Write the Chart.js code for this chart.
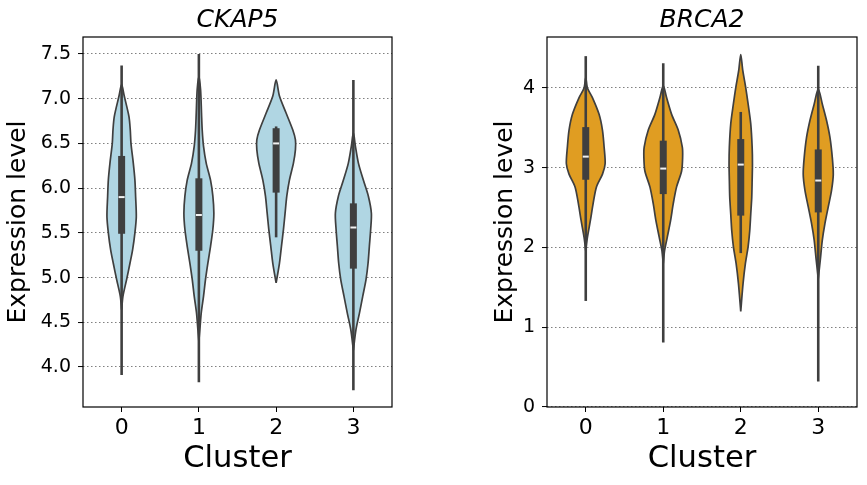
<!DOCTYPE html>
<html>
<head>
<meta charset="utf-8">
<script src="https://cdn.jsdelivr.net/npm/chart.js@4.4.1/dist/chart.umd.min.js"></script>
<style>
  body { margin: 0; background: #fff; }
  #wrap { position: relative; width: 867px; height: 485px; }
  #c1 { position: absolute; left: 0; top: 0; }
  #c2 { position: absolute; left: 440px; top: 0; }
</style>
</head>
<body>
<div id="wrap">
  <canvas id="c1" width="440" height="485"></canvas>
  <canvas id="c2" width="427" height="485"></canvas>
</div>
<script>
const clusters = [0, 1, 2, 3];

// CKAP5 - violin outlines: expression level (bottom to top) and half width in cluster units
const ckap5Levels = [
  [4.64, 4.79, 4.98, 5.16, 5.31, 5.50, 5.68, 5.91, 6.09, 6.28, 6.50, 6.65, 6.80, 7.03, 7.16],
  [4.29, 4.42, 4.60, 4.79, 4.98, 5.16, 5.35, 5.54, 5.72, 5.91, 6.09, 6.28, 6.47, 6.65, 6.84, 7.10, 7.25],
  [4.94, 5.16, 5.35, 5.54, 5.72, 5.91, 6.09, 6.28, 6.43, 6.54, 6.65, 6.84, 7.03, 7.21],
  [4.19, 4.42, 4.60, 4.79, 4.98, 5.16, 5.35, 5.54, 5.72, 5.91, 6.09, 6.28, 6.47, 6.62]
];
const ckap5Widths = [
  [0, 0.017, 0.065, 0.108, 0.142, 0.172, 0.19, 0.181, 0.172, 0.151, 0.121, 0.112, 0.095, 0.034, 0],
  [0, 0.013, 0.03, 0.06, 0.086, 0.116, 0.151, 0.181, 0.194, 0.181, 0.151, 0.095, 0.06, 0.043, 0.034, 0.022, 0],
  [0, 0.043, 0.069, 0.095, 0.116, 0.138, 0.172, 0.224, 0.25, 0.25, 0.216, 0.129, 0.043, 0],
  [0, 0.034, 0.078, 0.121, 0.164, 0.19, 0.207, 0.224, 0.233, 0.194, 0.129, 0.065, 0.026, 0]
];
const ckap5Low = [3.91, 3.83, 5.45, 3.74];
const ckap5Q1 = [5.49, 5.30, 5.95, 5.10];
const ckap5Median = [5.90, 5.70, 6.50, 5.56];
const ckap5Q3 = [6.36, 6.11, 6.67, 5.83];
const ckap5High = [7.37, 7.50, 6.69, 7.21];
const ckap5Ticks = [4.0, 4.5, 5.0, 5.5, 6.0, 6.5, 7.0, 7.5];

// BRCA2
const brca2Levels = [
  [1.96, 2.13, 2.34, 2.55, 2.76, 2.92, 3.05, 3.26, 3.47, 3.67, 3.88, 4.00, 4.13],
  [1.80, 1.96, 2.13, 2.34, 2.55, 2.76, 2.96, 3.13, 3.26, 3.47, 3.67, 3.88, 4.03],
  [1.20, 1.55, 1.80, 2.01, 2.21, 2.42, 2.63, 2.84, 3.05, 3.26, 3.55, 3.80, 4.00, 4.22, 4.42],
  [1.61, 1.84, 2.09, 2.30, 2.51, 2.72, 2.92, 3.13, 3.38, 3.59, 3.80, 3.99]
];
const brca2Widths = [
  [0, 0.022, 0.06, 0.095, 0.138, 0.216, 0.25, 0.237, 0.216, 0.172, 0.086, 0.022, 0],
  [0, 0.017, 0.052, 0.095, 0.129, 0.172, 0.237, 0.25, 0.246, 0.194, 0.108, 0.043, 0],
  [0, 0.03, 0.06, 0.095, 0.116, 0.129, 0.142, 0.147, 0.151, 0.147, 0.129, 0.095, 0.065, 0.026, 0],
  [0, 0.026, 0.052, 0.086, 0.129, 0.172, 0.194, 0.181, 0.151, 0.108, 0.052, 0]
];
const brca2Low = [1.33, 0.81, 1.93, 0.32];
const brca2Q1 = [2.85, 2.67, 2.40, 2.44];
const brca2Median = [3.14, 2.99, 3.04, 2.84];
const brca2Q3 = [3.51, 3.34, 3.36, 3.23];
const brca2High = [4.40, 4.31, 3.70, 4.28];
const brca2Ticks = [0, 1, 2, 3, 4];

const GRAY = '#3f3f3f';
const FONT = 'DejaVu Sans';

function violinSets(levels, widths, low, q1, med, q3, high, color) {
  const sets = [];
  clusters.forEach((c, i) => {
    const right = levels[i].map((y, k) => ({x: c + widths[i][k], y: y}));
    const left = levels[i].map((y, k) => ({x: c - widths[i][k], y: y})).reverse();
    sets.push({
      data: right.concat(left.slice(1)),
      showLine: true, fill: 'shape', tension: 0.28,
      backgroundColor: color, borderColor: GRAY, borderWidth: 1.7,
      pointRadius: 0, order: 4
    });
    sets.push({
      data: [{x: c, y: low[i]}, {x: c, y: high[i]}],
      showLine: true, borderColor: GRAY, borderWidth: 2.6, pointRadius: 0, order: 3
    });
    sets.push({
      data: [{x: c, y: q1[i]}, {x: c, y: q3[i]}],
      showLine: true, borderColor: GRAY, borderWidth: 7, borderCapStyle: 'butt',
      pointRadius: 0, order: 2
    });
    sets.push({
      data: [{x: c, y: med[i]}],
      showLine: false, pointStyle: 'line', pointRadius: 3,
      pointBorderWidth: 2, pointBorderColor: '#f2f2f2', order: 1
    });
  });
  return sets;
}

const frame = {
  id: 'frame',
  afterDatasetsDraw(chart) {
    const a = chart.chartArea, ctx = chart.ctx;
    ctx.save();
    ctx.strokeStyle = '#000';
    ctx.lineWidth = 1.2;
    ctx.strokeRect(a.left, a.top, a.right - a.left, a.bottom - a.top);
    ctx.restore();
  }
};

function makeChart(id, title, sets, yMin, yMax, yTicks, yFmt, axisW, padRight, yTitlePad) {
  return new Chart(document.getElementById(id), {
    type: 'scatter',
    data: { datasets: sets },
    plugins: [frame],
    options: {
      responsive: false,
      animation: false,
      layout: { padding: { left: 0, right: padRight, top: 0, bottom: 0 } },
      plugins: {
        legend: { display: false },
        tooltip: { enabled: false },
        title: {
          display: true, text: title, fullSize: false, color: '#000',
          font: { family: FONT, size: 25, style: 'italic', weight: 'normal' },
          padding: { top: 5, bottom: 2 }
        }
      },
      scales: {
        x: {
          type: 'linear', min: -0.5, max: 3.5,
          afterBuildTicks: s => { s.ticks = clusters.map(v => ({value: v})); },
          afterFit: s => { s.height = 78; },
          ticks: { color: '#000', font: { family: FONT, size: 22 }, padding: 3 },
          grid: { drawOnChartArea: false, drawTicks: true, tickLength: 5, tickColor: '#000', tickWidth: 1 },
          border: { display: false },
          title: {
            display: true, text: 'Cluster', color: '#000',
            font: { family: FONT, size: 30.6 }, padding: { top: 0, bottom: 8 }
          }
        },
        y: {
          min: yMin, max: yMax,
          afterBuildTicks: s => { s.ticks = yTicks.map(v => ({value: v})); },
          afterFit: s => { s.width = axisW; },
          ticks: { color: '#000', font: { family: FONT, size: 19 }, padding: 7, callback: yFmt },
          grid: { color: '#808080', lineWidth: 1.1, tickLength: 5, tickColor: '#000', tickWidth: 1, tickBorderDash: [] },
          border: { display: false, dash: [1.5, 2.5] },
          title: {
            display: true, text: 'Expression level', color: '#000',
            font: { family: FONT, size: 25 }, padding: { top: yTitlePad, bottom: 0 }
          }
        }
      }
    }
  });
}

makeChart('c1', 'CKAP5',
  violinSets(ckap5Levels, ckap5Widths, ckap5Low, ckap5Q1, ckap5Median, ckap5Q3, ckap5High, '#b0d6e3'),
  3.553, 7.69, ckap5Ticks, v => v.toFixed(1), 83, 48, 3);

makeChart('c2', 'BRCA2',
  violinSets(brca2Levels, brca2Widths, brca2Low, brca2Q1, brca2Median, brca2Q3, brca2High, '#e09d22'),
  0, 4.64, brca2Ticks, v => String(v), 107, 10, 50);
</script>
</body>
</html>
